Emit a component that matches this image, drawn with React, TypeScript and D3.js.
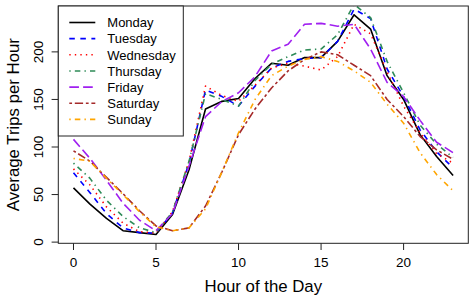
import React from 'react';
import * as d3 from 'd3';

const hours = [0, 1, 2, 3, 4, 5, 6, 7, 8, 9, 10, 11, 12, 13, 14, 15, 16, 17, 18, 19, 20, 21, 22, 23];

const monday = [57, 40, 25, 12, 10, 8, 29, 76, 140, 148, 151, 172, 188, 186, 194, 194, 211, 239, 224, 175, 150, 113, 90, 70];
const tuesday = [73, 52, 30, 15, 10, 9.5, 31, 83, 160, 153, 143, 164, 183, 190, 193, 194, 211, 245, 235, 182, 153, 118, 95, 78];
const wednesday = [77, 60, 37, 20, 11, 9.5, 32, 85, 164, 154, 148, 165, 183, 188, 185, 181, 195, 229, 219, 179, 143, 115, 93, 83];
const thursday = [83, 67, 44, 27, 15, 10, 32, 85, 156, 150, 143, 170, 187, 195, 202, 203, 218, 250, 236, 190, 157, 123, 103, 89];
const friday = [108, 88, 65, 41, 23, 12, 30, 80, 132, 148, 157, 174, 201, 208, 229, 230, 227, 229, 203, 168, 153, 128, 105, 94];
const saturday = [96, 85, 68, 51, 33, 17, 12, 15, 38, 74, 113, 140, 162, 180, 192, 200, 197, 186, 175, 150, 132, 111, 97, 87];
const sunday = [88, 85, 67, 50, 32, 16, 12, 15, 35, 74, 115, 150, 175, 185, 192, 195, 190, 180, 168, 145, 125, 94, 71, 54];

const dayNames = ['Monday', 'Tuesday', 'Wednesday', 'Thursday', 'Friday', 'Saturday', 'Sunday'];
const dayColors = ['#000000', '#0000FF', '#FF0000', '#2E8B57', '#A020F0', '#A52A2A', '#FFA500'];
const dayDashes = ['', '44', '13', '1343', '73', '2262', '1343'];

const xTicks = [0, 5, 10, 15, 20];
const yTicks = [0, 50, 100, 150, 200];

const W = 475;
const H = 302;
const plotL = 58.3;
const plotR = 468.3;
const plotT = 6;
const plotB = 243.3;
const FONT = "'Liberation Sans', Arial, Helvetica, sans-serif";
const DASH_UNIT = 1.38;
const LW = 1.6;

function dashArray(code: string): string | undefined {
  if (!code) return undefined;
  return code.split('').map((c) => (parseInt(c, 16) * DASH_UNIT).toFixed(2)).join(' ');
}

export default function App() {
  const series = [monday, tuesday, wednesday, thursday, friday, saturday, sunday];
  const xExt = d3.extent(hours) as [number, number];
  const xr = xExt[1] - xExt[0];
  const yExt = d3.extent(monday) as [number, number];
  const yr = yExt[1] - yExt[0];
  const x = d3.scaleLinear().domain([xExt[0] - 0.04 * xr, xExt[1] + 0.04 * xr]).range([plotL, plotR]);
  const y = d3.scaleLinear().domain([yExt[0] - 0.04 * yr, yExt[1] + 0.04 * yr]).range([plotB, plotT]);
  const line = d3.line<number>().x((_, i) => x(hours[i])).y((d) => y(d));

  const legX = plotL;
  const legY = plotT;
  const legW = 125;
  const legH = 130;
  const rowY0 = 22.5;
  const rowStep = 16.15;

  return (
    <svg width={W} height={H} style={{ position: 'absolute', left: 0, top: 0, background: '#fff' }} fontFamily={FONT}>
      <defs>
        <clipPath id="plotclip">
          <rect x={plotL} y={plotT} width={plotR - plotL} height={plotB - plotT} />
        </clipPath>
      </defs>
      <rect x={0} y={0} width={W} height={H} fill="#fff" />
      <g clipPath="url(#plotclip)">
        {series.map((s, i) => (
          <path
            key={dayNames[i]}
            d={line(s) || ''}
            fill="none"
            stroke={dayColors[i]}
            strokeWidth={LW}
            strokeDasharray={dashArray(dayDashes[i])}
            strokeLinejoin="round"
          />
        ))}
      </g>
      {/* plot box */}
      <rect x={plotL} y={plotT} width={plotR - plotL} height={plotB - plotT} fill="none" stroke="#222" strokeWidth={1} />
      {/* x axis */}
      {xTicks.map((t) => (
        <g key={'xt' + t}>
          <line x1={x(t)} x2={x(t)} y1={plotB} y2={plotB + 6.7} stroke="#222" strokeWidth={1} />
          <text x={x(t)} y={267.3} fontSize={13.5} textAnchor="middle" fill="#000">{t}</text>
        </g>
      ))}
      {/* y axis */}
      {yTicks.map((t) => (
        <g key={'yt' + t}>
          <line x1={plotL - 6.7} x2={plotL} y1={y(t)} y2={y(t)} stroke="#222" strokeWidth={1} />
          <text transform={`translate(43.3,${y(t)}) rotate(-90)`} fontSize={13.5} textAnchor="middle" fill="#000">{t}</text>
        </g>
      ))}
      <text x={(plotL + plotR) / 2} y={292.3} fontSize={16.8} textAnchor="middle" fill="#000">Hour of the Day</text>
      <text transform={`translate(18.7,${(plotT + plotB) / 2}) rotate(-90)`} fontSize={16.8} textAnchor="middle" fill="#000">Average Trips per Hour</text>
      {/* legend */}
      <rect x={legX} y={legY} width={legW} height={legH} fill="#fff" stroke="#222" strokeWidth={1} />
      {dayNames.map((n, i) => {
        const ry = rowY0 + i * rowStep;
        return (
          <g key={'lg' + n}>
            <line x1={69.3} x2={95.3} y1={ry} y2={ry} stroke={dayColors[i]} strokeWidth={LW} strokeDasharray={dashArray(dayDashes[i])} />
            <text x={107.3} y={ry + 4.7} fontSize={13} fill="#000">{n}</text>
          </g>
        );
      })}
    </svg>
  );
}
